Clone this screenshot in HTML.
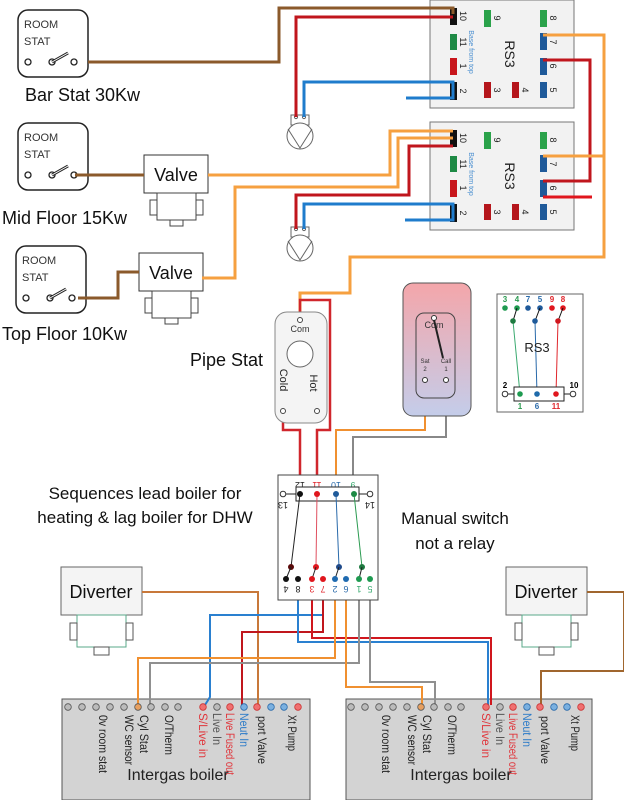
<!DOCTYPE html>
<html><head><meta charset="utf-8"><style>
html,body{margin:0;padding:0;background:#fff;}
svg{display:block;font-family:"Liberation Sans",sans-serif;}
</style></head><body>
<svg width="624" height="800" viewBox="0 0 624 800" xmlns="http://www.w3.org/2000/svg">
<defs>
<linearGradient id="cyl" x1="0" y1="0" x2="0" y2="1"><stop offset="0" stop-color="#f4a6aa"/><stop offset="1" stop-color="#c4cdea"/></linearGradient>
<g id="rs3">
<rect x="430" y="0" width="144" height="108" fill="#f2f2f2" stroke="#777" stroke-width="1"/>
<rect x="450" y="8" width="7" height="17" fill="#111"/>
<rect x="450" y="34" width="7" height="16" fill="#1e8a45"/>
<rect x="450" y="58" width="7" height="17" fill="#c8161c"/>
<rect x="450" y="82" width="7" height="18" fill="#111"/>
<rect x="484" y="10" width="7" height="17" fill="#2aa24a"/>
<rect x="484" y="82" width="7" height="16" fill="#b5161c"/>
<rect x="512" y="82" width="7" height="16" fill="#b5161c"/>
<rect x="540" y="10" width="7" height="17" fill="#2aa24a"/>
<rect x="540" y="33" width="7" height="17" fill="#1f5a9a"/>
<rect x="540" y="58" width="7" height="17" fill="#1f5a9a"/>
<rect x="540" y="82" width="7" height="16" fill="#1f5a9a"/>
<g font-size="9" fill="#222">
<text transform="translate(460,16) rotate(90)" text-anchor="middle">10</text>
<text transform="translate(460,42) rotate(90)" text-anchor="middle">11</text>
<text transform="translate(460,66) rotate(90)" text-anchor="middle">1</text>
<text transform="translate(460,91) rotate(90)" text-anchor="middle">2</text>
<text transform="translate(494,18) rotate(90)" text-anchor="middle">9</text>
<text transform="translate(494,90) rotate(90)" text-anchor="middle">3</text>
<text transform="translate(522,90) rotate(90)" text-anchor="middle">4</text>
<text transform="translate(550,18) rotate(90)" text-anchor="middle">8</text>
<text transform="translate(550,42) rotate(90)" text-anchor="middle">7</text>
<text transform="translate(550,66) rotate(90)" text-anchor="middle">6</text>
<text transform="translate(550,90) rotate(90)" text-anchor="middle">5</text>
</g>
<text transform="translate(469,52) rotate(90)" text-anchor="middle" font-size="7" fill="#4a8fd0">Base from top</text>
<text transform="translate(505,54) rotate(90)" text-anchor="middle" font-size="14" fill="#222">RS3</text>
</g>
<g id="pump">
<rect x="-9" y="0" width="18" height="10" fill="#fff" stroke="#666"/>
<circle cx="-4" cy="2" r="1.6" fill="#fff" stroke="#666"/><circle cx="4" cy="2" r="1.6" fill="#fff" stroke="#666"/>
<circle cx="0" cy="21" r="13" fill="#fff" stroke="#666"/>
<path d="M-12,14 L0,33 L12,14" fill="none" stroke="#666"/>
</g>
<g id="stat">
<rect x="0" y="0" width="70" height="67" rx="10" fill="#fff" stroke="#222" stroke-width="1.5"/>
<text x="6" y="18" font-size="11" fill="#333">ROOM</text>
<text x="6" y="35" font-size="11" fill="#333">STAT</text>
<circle cx="10" cy="52" r="3" fill="#fff" stroke="#222" stroke-width="1.3"/>
<circle cx="34" cy="52" r="3" fill="#fff" stroke="#222" stroke-width="1.3"/>
<line x1="34" y1="52" x2="50" y2="43" stroke="#222" stroke-width="3"/>
<line x1="34" y1="52" x2="50" y2="43" stroke="#fff" stroke-width="1"/>
<circle cx="56" cy="52" r="3" fill="#fff" stroke="#222" stroke-width="1.3"/>
</g>
<g id="valve">
<rect x="0" y="0" width="64" height="38" fill="#fff" stroke="#333"/>
<text x="32" y="26" font-size="18" text-anchor="middle" fill="#111">Valve</text>
<rect x="13" y="38" width="39" height="27" fill="#fff" stroke="#444"/>
<rect x="6" y="45" width="7" height="15" fill="#fff" stroke="#444"/>
<rect x="52" y="45" width="7" height="15" fill="#fff" stroke="#444"/>
<rect x="26" y="65" width="13" height="6" fill="#fff" stroke="#444"/>
</g>
<g id="div">
<rect x="0" y="0" width="81" height="48" fill="#f4f4f4" stroke="#666"/>
<text x="40" y="31" font-size="18" text-anchor="middle" fill="#111">Diverter</text>
<rect x="16" y="48" width="49" height="32" fill="#fff" stroke="#5aa88a"/>
<rect x="9" y="56" width="7" height="17" fill="#fff" stroke="#555"/>
<rect x="65" y="56" width="7" height="17" fill="#fff" stroke="#555"/>
<rect x="33" y="80" width="15" height="8" fill="#fff" stroke="#555"/>
</g>
</defs>

<use href="#rs3"/>
<use href="#rs3" transform="translate(0,122)"/>

<use href="#stat" transform="translate(18,10)"/>
<use href="#stat" transform="translate(18,123)"/>
<use href="#stat" transform="translate(16,246)"/>
<g font-size="18" fill="#111">
<text x="25" y="101">Bar Stat 30Kw</text>
<text x="2" y="224">Mid Floor 15Kw</text>
<text x="2" y="340">Top Floor 10Kw</text>
<text x="190" y="366">Pipe Stat</text>
<text x="145" y="499" text-anchor="middle" font-size="17">Sequences lead boiler for</text>
<text x="145" y="523" text-anchor="middle" font-size="17">heating &amp; lag boiler for DHW</text>
<text x="455" y="524" text-anchor="middle" font-size="17">Manual switch</text>
<text x="455" y="549" text-anchor="middle" font-size="17">not a relay</text>
</g>

<use href="#valve" transform="translate(144,155)"/>
<use href="#valve" transform="translate(139,253)"/>
<use href="#pump" transform="translate(300,115)"/>
<use href="#pump" transform="translate(300,227)"/>

<g fill="none" stroke-width="3" stroke-linejoin="miter">
<polyline points="88,62 279,62 279,8 453,8 453,14" stroke="#8b5a2b"/>
<polyline points="296,117 296,17 453,17" stroke="#c0161d"/>
<polyline points="304,117 304,82 453,82 453,98 406,98" stroke="#1f7ccc"/>
<polyline points="543,35 604,35 604,257 350,257 350,293 300,293 300,312" stroke="#f6a040"/>
<polyline points="543,60 590,60 590,181 543,181" stroke="#c0161d"/>
<polyline points="543,197 592,197" stroke="#e0161d"/>
<polyline points="208,175 390,175 390,131 453,131" stroke="#f6a040"/>
<polyline points="202,278 235,278 235,187 398,187 398,138 453,138" stroke="#f6a040"/>
<polyline points="296,229 296,195 409,195 409,146 453,146" stroke="#c0161d"/>
<polyline points="304,229 304,204 453,204 453,220 405,220" stroke="#1f7ccc"/>
<polyline points="543,156 604,156" stroke="#f6a040"/>
<polyline points="75,175 144,175" stroke="#8b5a2b"/>
<polyline points="78,298 118,298 118,272 139,272" stroke="#8b5a2b"/>
</g>

<g fill="none" stroke-width="2.5">
<polyline points="300,312 300,300 330,300 330,430 317,430 317,475" stroke="#d0262c"/>
<polyline points="283,412 283,430 300,430 300,475" stroke="#d0262c"/>
<polyline points="425,383 425,430 336,430 336,475" stroke="#f09030" stroke-width="2"/>
<polyline points="446,383 446,437 353,437 353,475" stroke="#888" stroke-width="2"/>
</g>
<rect x="275" y="312" width="52" height="111" rx="12" fill="#f4f4f4" stroke="#888"/>
<circle cx="300" cy="320" r="2.5" fill="#fff" stroke="#444"/>
<text x="300" y="332" font-size="9" text-anchor="middle" fill="#333">Com</text>
<circle cx="300" cy="354" r="13" fill="#fff" stroke="#666"/>
<text transform="translate(280,380) rotate(90)" font-size="11" text-anchor="middle" fill="#222">Cold</text>
<text transform="translate(310,383) rotate(90)" font-size="11" text-anchor="middle" fill="#222">Hot</text>
<circle cx="283" cy="411" r="2.5" fill="#fff" stroke="#444"/>
<circle cx="317" cy="411" r="2.5" fill="#fff" stroke="#444"/>

<rect x="403" y="283" width="68" height="133" rx="10" fill="url(#cyl)" stroke="#555"/>
<rect x="416" y="313" width="39" height="85" rx="8" fill="none" stroke="#444"/>
<circle cx="434" cy="318" r="2.5" fill="#fff" stroke="#333"/>
<text x="434" y="328" font-size="9" text-anchor="middle" fill="#333">Com</text>
<line x1="434" y1="320" x2="443" y2="358" stroke="#222" stroke-width="2"/>
<text x="425" y="363" font-size="6" text-anchor="middle" fill="#333">Sat</text>
<text x="425" y="371" font-size="6" text-anchor="middle" fill="#333">2</text>
<text x="446" y="363" font-size="6" text-anchor="middle" fill="#333">Call</text>
<text x="446" y="371" font-size="6" text-anchor="middle" fill="#333">1</text>
<circle cx="425" cy="380" r="2.5" fill="#fff" stroke="#333"/>
<circle cx="446" cy="380" r="2.5" fill="#fff" stroke="#333"/>

<rect x="497" y="294" width="86" height="118" fill="#fff" stroke="#666"/>
<g font-size="8" font-weight="bold" text-anchor="middle">
<text x="505" y="302" fill="#2a9a50">3</text><text x="517" y="302" fill="#2a9a50">4</text>
<text x="528" y="302" fill="#2a6aaa">7</text><text x="540" y="302" fill="#2a6aaa">5</text>
<text x="552" y="302" fill="#e0262c">9</text><text x="563" y="302" fill="#e0262c">8</text>
</g>
<g>
<circle cx="505" cy="308" r="2.8" fill="#1e9a50"/><circle cx="517" cy="308" r="2.8" fill="#1e9a50"/>
<circle cx="528" cy="308" r="2.8" fill="#1f5a9a"/><circle cx="540" cy="308" r="2.8" fill="#1f5a9a"/>
<circle cx="552" cy="308" r="2.8" fill="#e0161d"/><circle cx="563" cy="308" r="2.8" fill="#e0161d"/>
<line x1="517" y1="308" x2="513" y2="321" stroke="#111"/>
<line x1="540" y1="308" x2="535" y2="321" stroke="#111"/>
<line x1="563" y1="308" x2="558" y2="321" stroke="#111"/>
<line x1="513" y1="321" x2="520" y2="394" stroke="#3aaa70"/>
<line x1="535" y1="321" x2="537" y2="394" stroke="#2a6aaa"/>
<line x1="558" y1="321" x2="556" y2="394" stroke="#e0262c"/>
<circle cx="513" cy="321" r="2.8" fill="#1e7a40"/><circle cx="535" cy="321" r="2.8" fill="#1f5a9a"/><circle cx="558" cy="321" r="2.8" fill="#d0161d"/>
<text x="537" y="352" font-size="13" text-anchor="middle" fill="#222">RS3</text>
<rect x="514" y="387" width="50" height="14" fill="#fff" stroke="#222"/>
<line x1="508" y1="394" x2="514" y2="394" stroke="#222"/><line x1="564" y1="394" x2="570" y2="394" stroke="#222"/>
<circle cx="505" cy="394" r="2.8" fill="#fff" stroke="#333"/><circle cx="573" cy="394" r="2.8" fill="#fff" stroke="#333"/>
<circle cx="520" cy="394" r="2.8" fill="#1e9a50"/><circle cx="537" cy="394" r="2.8" fill="#1f6aaa"/><circle cx="556" cy="394" r="2.8" fill="#e0161d"/>
<text x="505" y="388" font-size="8" font-weight="bold" text-anchor="middle">2</text>
<text x="574" y="388" font-size="8" font-weight="bold" text-anchor="middle">10</text>
<text x="520" y="409" font-size="8" font-weight="bold" text-anchor="middle" fill="#2a9a50">1</text>
<text x="537" y="409" font-size="8" font-weight="bold" text-anchor="middle" fill="#2a6aaa">6</text>
<text x="556" y="409" font-size="8" font-weight="bold" text-anchor="middle" fill="#e0262c">11</text>
</g>

<use href="#div" transform="translate(61,567)"/>
<use href="#div" transform="translate(506,567)"/>

<rect x="62" y="699" width="248" height="101" fill="#d3d3d3" stroke="#555"/>
<rect x="346" y="699" width="246" height="101" fill="#d3d3d3" stroke="#555"/>

<g fill="none" stroke-width="2">
<polyline points="142,592 258,592 258,705" stroke="#c8783a"/>
<polyline points="587,592 624,592 624,671 541,671 541,705" stroke="#a0662e"/>
<polyline points="323,580 323,615 210,615 210,697 205,705" stroke="#2a80d0"/>
<polyline points="323,580 323,632 242,632 242,705" stroke="#c0161d"/>
<polyline points="298,580 298,642 488,642 488,705" stroke="#2a80d0"/>
<polyline points="312,580 312,638 491,638 491,705" stroke="#d0161d"/>
<polyline points="335,580 335,658 138,658 138,705" stroke="#f09030"/>
<polyline points="359,580 359,663 150,663 150,705" stroke="#909090"/>
<polyline points="346,580 346,687 422,687 422,705" stroke="#f09030"/>
<polyline points="370,580 370,682 435,682 435,705" stroke="#909090"/>
</g>

<rect x="278" y="475" width="100" height="125" fill="#fff" stroke="#444"/>
<g font-size="9" text-anchor="middle">
<text transform="translate(300,482) rotate(180)" fill="#222">12</text>
<text transform="translate(317,482) rotate(180)" fill="#e0262c">11</text>
<text transform="translate(336,482) rotate(180)" fill="#2a6aaa">10</text>
<text transform="translate(353,482) rotate(180)" fill="#3aaa70">9</text>
<text transform="translate(283,502) rotate(180)" fill="#222">13</text>
<text transform="translate(370,502) rotate(180)" fill="#222">14</text>
</g>
<rect x="296" y="487" width="63" height="14" fill="#fff" stroke="#222"/>
<line x1="286" y1="494" x2="296" y2="494" stroke="#222"/><line x1="359" y1="494" x2="367" y2="494" stroke="#222"/>
<circle cx="283" cy="494" r="2.8" fill="#fff" stroke="#333"/><circle cx="370" cy="494" r="2.8" fill="#fff" stroke="#333"/>
<line x1="300" y1="494" x2="291" y2="567" stroke="#222"/>
<line x1="317" y1="494" x2="316" y2="567" stroke="#e05060"/>
<line x1="336" y1="494" x2="339" y2="567" stroke="#2a6aaa"/>
<line x1="354" y1="494" x2="362" y2="567" stroke="#2a9a50"/>
<circle cx="300" cy="494" r="3" fill="#111"/><circle cx="317" cy="494" r="3" fill="#e0161d"/><circle cx="336" cy="494" r="3" fill="#1f5a9a"/><circle cx="354" cy="494" r="3" fill="#1e8a45"/>
<circle cx="291" cy="567" r="3" fill="#5a0a0a"/><circle cx="316" cy="567" r="3" fill="#e0161d"/><circle cx="339" cy="567" r="3" fill="#1f4a8a"/><circle cx="362" cy="567" r="3" fill="#1e7a40"/>
<line x1="291" y1="567" x2="286" y2="579" stroke="#222"/>
<line x1="316" y1="567" x2="312" y2="579" stroke="#222"/>
<line x1="339" y1="567" x2="335" y2="579" stroke="#222"/>
<line x1="362" y1="567" x2="359" y2="579" stroke="#222"/>
<circle cx="286" cy="579" r="3" fill="#111"/><circle cx="298" cy="579" r="3" fill="#111"/>
<circle cx="312" cy="579" r="3" fill="#e0161d"/><circle cx="323" cy="579" r="3" fill="#e0161d"/>
<circle cx="335" cy="579" r="3" fill="#1f6ab0"/><circle cx="346" cy="579" r="3" fill="#1f6ab0"/>
<circle cx="359" cy="579" r="3" fill="#1e9a50"/><circle cx="370" cy="579" r="3" fill="#1e9a50"/>
<g font-size="9" text-anchor="middle">
<text transform="translate(286,586) rotate(180)" fill="#222">4</text>
<text transform="translate(298,586) rotate(180)" fill="#222">8</text>
<text transform="translate(312,586) rotate(180)" fill="#e0262c">3</text>
<text transform="translate(323,586) rotate(180)" fill="#e0262c">7</text>
<text transform="translate(335,586) rotate(180)" fill="#2a6aaa">2</text>
<text transform="translate(346,586) rotate(180)" fill="#2a6aaa">6</text>
<text transform="translate(359,586) rotate(180)" fill="#3aaa70">1</text>
<text transform="translate(370,586) rotate(180)" fill="#3aaa70">5</text>
</g>

<g id="bt">
<g stroke-width="0.8">
<circle cx="68" cy="707" r="3.3" fill="#bbb" stroke="#555"/><circle cx="82" cy="707" r="3.3" fill="#bbb" stroke="#555"/>
<circle cx="96" cy="707" r="3.3" fill="#bbb" stroke="#555"/><circle cx="110" cy="707" r="3.3" fill="#bbb" stroke="#555"/>
<circle cx="124" cy="707" r="3.3" fill="#bbb" stroke="#555"/><circle cx="138" cy="707" r="3.3" fill="#e8a060" stroke="#555"/>
<circle cx="151" cy="707" r="3.3" fill="#bbb" stroke="#555"/><circle cx="165" cy="707" r="3.3" fill="#bbb" stroke="#555"/>
<circle cx="178" cy="707" r="3.3" fill="#bbb" stroke="#555"/>
<circle cx="203" cy="707" r="3.3" fill="#f07070" stroke="#c33"/><circle cx="217" cy="707" r="3.3" fill="#bbb" stroke="#555"/>
<circle cx="230" cy="707" r="3.3" fill="#f07070" stroke="#c33"/><circle cx="244" cy="707" r="3.3" fill="#7ab0e0" stroke="#2a6aaa"/>
<circle cx="257" cy="707" r="3.3" fill="#f07070" stroke="#c33"/><circle cx="271" cy="707" r="3.3" fill="#7ab0e0" stroke="#2a6aaa"/>
<circle cx="284" cy="707" r="3.3" fill="#7ab0e0" stroke="#2a6aaa"/><circle cx="298" cy="707" r="3.3" fill="#f07070" stroke="#c33"/>
</g>
<g font-size="12">
<text transform="translate(99,715) rotate(90)" fill="#222" textLength="58" lengthAdjust="spacingAndGlyphs">0v room stat</text>
<text transform="translate(125,715) rotate(90)" fill="#222" textLength="50" lengthAdjust="spacingAndGlyphs">WC sensor</text>
<text transform="translate(140,715) rotate(90)" fill="#222" textLength="38" lengthAdjust="spacingAndGlyphs">Cyl Stat</text>
<text transform="translate(165,715) rotate(90)" fill="#222" textLength="40" lengthAdjust="spacingAndGlyphs">O/Therm</text>
<text transform="translate(199,713) rotate(90)" fill="#e0363c" textLength="45" lengthAdjust="spacingAndGlyphs">S/Live in</text>
<text transform="translate(213,713) rotate(90)" fill="#555" textLength="32" lengthAdjust="spacingAndGlyphs">Live In</text>
<text transform="translate(226,713) rotate(90)" fill="#e0363c" textLength="62" lengthAdjust="spacingAndGlyphs">Live Fused out</text>
<text transform="translate(240,713) rotate(90)" fill="#2a7ac8" textLength="34" lengthAdjust="spacingAndGlyphs">Neut In</text>
<text transform="translate(258,716) rotate(90)" fill="#222" textLength="48" lengthAdjust="spacingAndGlyphs">port Valve</text>
<text transform="translate(288,715) rotate(90)" fill="#222" textLength="36" lengthAdjust="spacingAndGlyphs">Xt Pump</text>
</g>
<text x="178" y="780" font-size="16" text-anchor="middle" fill="#222">Intergas boiler</text>
</g>
<use href="#bt" transform="translate(283,0)"/>
</svg>
</body></html>
